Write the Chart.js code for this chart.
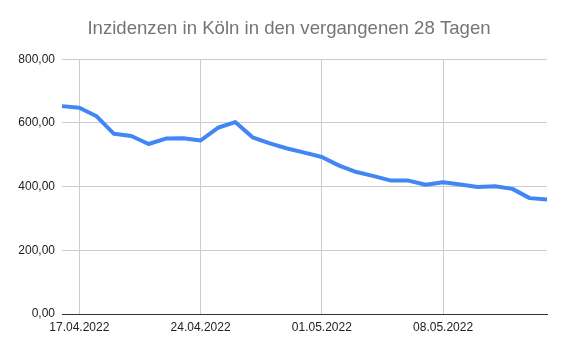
<!DOCTYPE html>
<html><head><meta charset="utf-8">
<script src="https://cdn.jsdelivr.net/npm/chart.js@4/dist/chart.umd.min.js"></script>
<style>html,body{margin:0;padding:0;background:#fff}#w{width:564px;height:352px}</style>
</head><body><div id="w"><canvas id="c"></canvas></div>
<script>
const dates = ["16.04.2022","17.04.2022","18.04.2022","19.04.2022","20.04.2022","21.04.2022","22.04.2022","23.04.2022","24.04.2022","25.04.2022","26.04.2022","27.04.2022","28.04.2022","29.04.2022","30.04.2022","01.05.2022","02.05.2022","03.05.2022","04.05.2022","05.05.2022","06.05.2022","07.05.2022","08.05.2022","09.05.2022","10.05.2022","11.05.2022","12.05.2022","13.05.2022","14.05.2022"];
const incidence = [653,648,621,566,559,534,551,552,545,585,603,555,536,520,507,493,466,446,433,419,419,406,414,407,399,401,393,364,360];
const shownLabels = ["17.04.2022","24.04.2022","01.05.2022","08.05.2022"];
const yTicks = [0,200,400,600,800];

const font = {family:"'Liberation Sans', Arial, sans-serif", size:12};
new Chart(document.getElementById('c'), {
  type:'line',
  data:{labels:dates, datasets:[{data:incidence, borderColor:'#4285F4', borderWidth:4, pointRadius:0, tension:0, fill:false, borderJoinStyle:'round'}]},
  options:{
    responsive:true, maintainAspectRatio:false, animation:false,
    layout:{padding:{left:14,right:0,top:0,bottom:0}},
    plugins:{legend:{display:false}, tooltip:{enabled:false},
      title:{display:true, text:'Inzidenzen in Köln in den vergangenen 28 Tagen', color:'#757575',
        font:{family:"'Liberation Sans', Arial, sans-serif", size:18.6, weight:'normal'}, padding:{top:18,bottom:19}}},
    scales:{
      x:{offset:false,
        grid:{color:(c)=> shownLabels.includes(dates[c.index]) ? '#cccccc' : 'rgba(0,0,0,0)', drawTicks:false},
        border:{display:true, color:'#333333', width:1},
        ticks:{autoSkip:false, maxRotation:0, color:'#222', font, padding:6,
          callback:(v,i)=> shownLabels.includes(dates[i]) ? dates[i] : ''},
        afterFit:(s)=>{s.height=38;}
      },
      y:{min:0,max:800,
        afterBuildTicks:(s)=>{s.ticks = yTicks.map(v=>({value:v}));},
        grid:{color:'#cccccc', drawTicks:false},
        border:{display:false},
        ticks:{color:'#222', font, padding:7, callback:(v)=> v.toFixed(2).replace('.',',')},
        afterFit:(s)=>{s.width=48;}
      },
      yRight:{position:'right', display:true, min:0, max:800,
        grid:{display:false, drawOnChartArea:false}, border:{display:false},
        ticks:{display:false},
        afterFit:(s)=>{s.width=17;}
      }
    }
  }
});
</script></body></html>
